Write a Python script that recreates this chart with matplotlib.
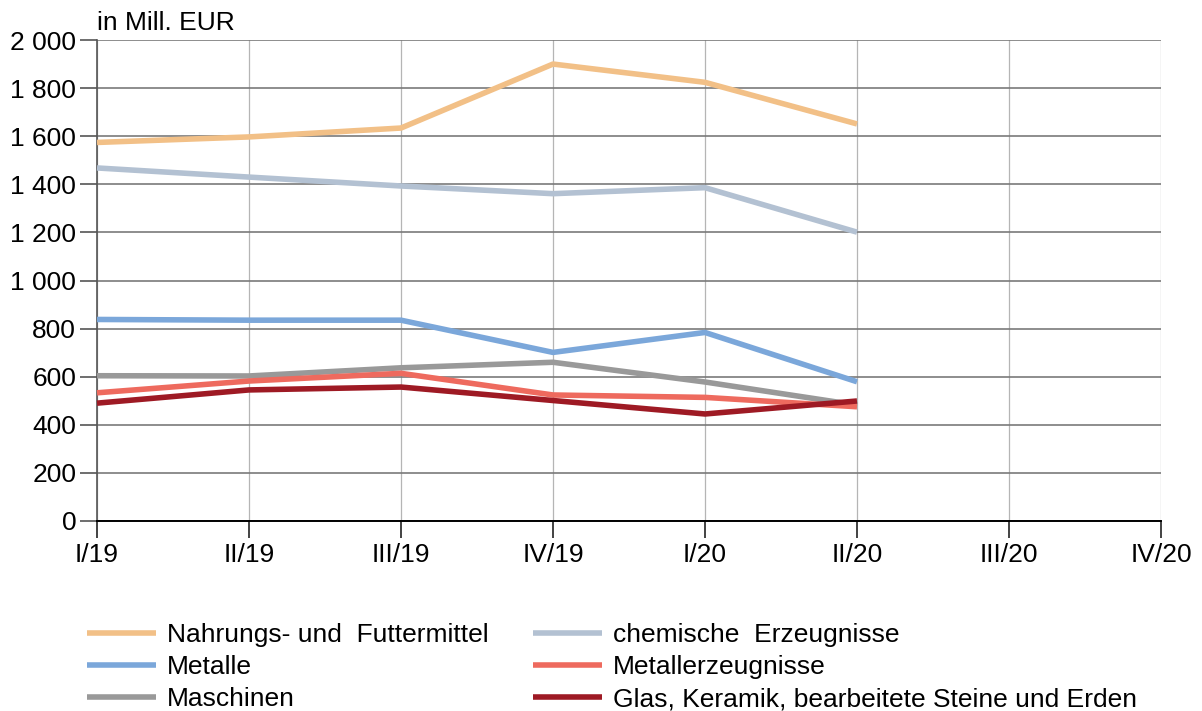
import matplotlib
matplotlib.use('Agg')
import matplotlib.pyplot as plt
from matplotlib.ticker import FuncFormatter

# ── Data (in Mill. EUR) ──
quarters = ['I/19', 'II/19', 'III/19', 'IV/19', 'I/20', 'II/20', 'III/20', 'IV/20']

nahrung = [1574, 1597, 1634, 1900, 1824, 1651]
chemie = [1468, 1430, 1393, 1361, 1386, 1201]
metalle = [838, 835, 835, 701, 784, 579]
metallerz = [533, 582, 614, 524, 514, 475]
maschinen = [604, 603, 637, 660, 578, 482]
glas = [490, 545, 557, 501, 445, 499]

series = [
    ('Nahrungs- und  Futtermittel', nahrung, '#F2C087'),
    ('Metalle', metalle, '#7BA7DA'),
    ('Maschinen', maschinen, '#999999'),
    ('chemische  Erzeugnisse', chemie, '#B3C1D2'),
    ('Metallerzeugnisse', metallerz, '#EE6A5E'),
    ('Glas, Keramik, bearbeitete Steine und Erden', glas, '#9E1A24'),
]

plt.rcParams['font.family'] = ['Liberation Sans', 'DejaVu Sans']
FS = 19

fig = plt.figure(figsize=(12.02, 7.11), dpi=100)
ax = fig.add_axes([97 / 1202, 1 - 521 / 711, 1064 / 1202, 481 / 711])

# draw order: back to front roughly as in the reference
draw_order = [3, 0, 1, 2, 4, 5]
handles = {}
for i in draw_order:
    name, vals, col = series[i]
    ln, = ax.plot(range(len(vals)), vals, color=col, lw=4.0, label=name,
                  solid_capstyle='butt', zorder=3, clip_on=False)
    handles[i] = ln

ax.set_xlim(0, len(quarters) - 1)
ax.set_ylim(0, 2000)
ax.set_xticks(range(len(quarters)))
ax.set_xticklabels(quarters, fontsize=FS)
ax.set_yticks(range(0, 2001, 200))
ax.yaxis.set_major_formatter(FuncFormatter(lambda v, p: f'{int(v):,}'.replace(',', ' ')))
ax.tick_params(axis='y', labelsize=FS, length=12, width=1.2, color='#555555', pad=3)
ax.tick_params(axis='x', labelsize=FS, length=12, width=1.2, color='#222222', pad=4)

ax.grid(True, axis='y', color='#7a7a7a', lw=1.2, zorder=1)
ax.grid(True, axis='x', color='#b5b5b5', lw=0.9, zorder=1)
for s in ['top', 'right']:
    ax.spines[s].set_visible(False)
ax.spines['left'].set_color('#555555'); ax.spines['left'].set_linewidth(1.2)
ax.spines['bottom'].set_color('black'); ax.spines['bottom'].set_linewidth(1.4)
ax.spines['bottom'].set_zorder(4)

ax.text(0, 1.01, 'in Mill. EUR', transform=ax.transAxes, fontsize=FS,
        ha='left', va='bottom')

leg = fig.legend([handles[i] for i in range(6)], [s[0] for s in series],
                 ncol=2, loc='upper left', bbox_to_anchor=(0.064, 0.138),
                 frameon=False, fontsize=FS, handlelength=2.6, handletextpad=0.42,
                 columnspacing=1.68, labelspacing=0.3, borderaxespad=0)

plt.savefig('out.png', dpi=100)
plt.close()
